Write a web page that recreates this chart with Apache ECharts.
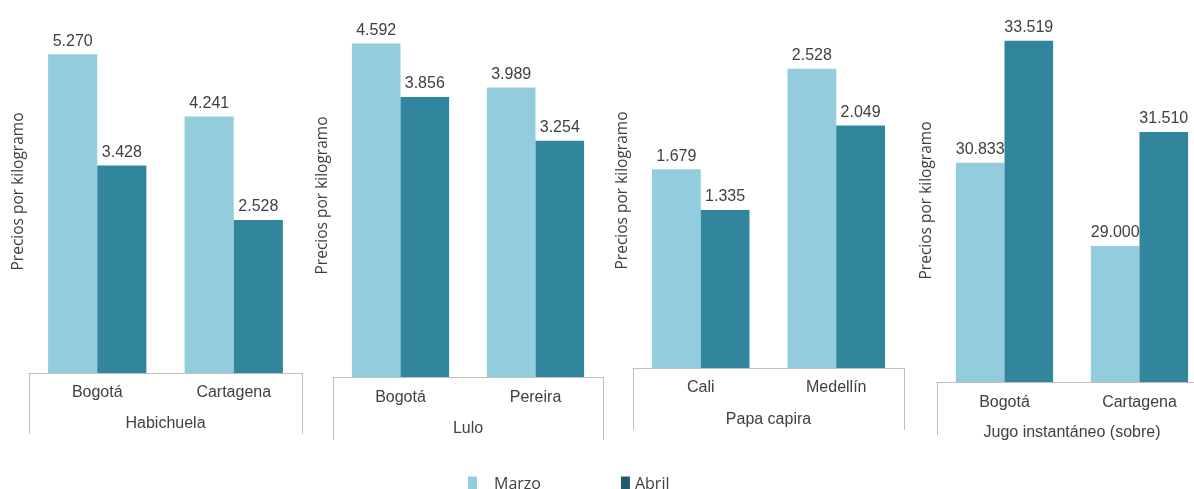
<!DOCTYPE html>
<html>
<head>
    <meta charset="utf-8">
    <title>Precios por kilogramo</title>
    <script src="https://cdn.jsdelivr.net/npm/echarts@6/dist/echarts.min.js"></script>
    <style>
        body { margin: 0; background: #fff; overflow: hidden; }
    </style>
</head>
<body>
<!-- el ultimo panel se sale un poco por la derecha, como en la imagen original -->
<div id="main" style="width: 1210px;height:489px;"></div>
<script type="text/javascript">
    // datos por producto (pesos por kilogramo)
    var productos = ['Habichuela', 'Lulo', 'Papa capira', 'Jugo instantáneo (sobre)'];
    var ciudades = [
        ['Bogotá', 'Cartagena'],
        ['Bogotá', 'Pereira'],
        ['Cali', 'Medellín'],
        ['Bogotá', 'Cartagena']
    ];
    var marzo = [
        [5270, 4241],
        [4592, 3989],
        [1679, 2528],
        [30833, 29000]
    ];
    var abril = [
        [3428, 2528],
        [3856, 3254],
        [1335, 2049],
        [33519, 31510]
    ];
    var ejeMin = [0, 0, 0, 26000];
    var ejeMax = [6000, 5000, 3000, 34000];

    // posicion de cada panel
    var paneles = [
        {left: 29, width: 273, top: 10, bottom: 116, city: 12, prod: 43, tick: 61},
        {left: 333, width: 270, top: 14, bottom: 112, city: 13, prod: 44, tick: 63},
        {left: 633, width: 271, top: 13, bottom: 121, city: 12, prod: 44, tick: 62},
        {left: 937, width: 270, top: 19, bottom: 107, city: 13, prod: 43, tick: 53}
    ];

    var colorMarzo = '#93cddd';
    var colorAbril = '#31859c';
    var gris = '#bfbfbf';
    var texto = '#404040';
    var fuente = 'Liberation Sans';

    function formato(v) {
        return String(v).replace(/\B(?=(\d{3})+(?!\d))/g, '.');
    }

    var grid = [], xAxis = [], yAxis = [], series = [];

    for (var i = 0; i < productos.length; i++) {
        var p = paneles[i];
        grid.push({left: p.left, width: p.width, top: p.top, bottom: p.bottom});

        // ciudades
        xAxis.push({
            type: 'category',
            gridIndex: i,
            position: 'bottom',
            data: ciudades[i],
            axisLine: {show: true, lineStyle: {color: gris, width: 1}},
            axisTick: {show: false},
            axisLabel: {margin: p.city, color: texto, fontSize: 16, fontFamily: fuente}
        });
        // producto (segundo nivel)
        xAxis.push({
            type: 'category',
            gridIndex: i,
            position: 'bottom',
            data: [productos[i]],
            axisLine: {show: false},
            axisTick: {show: true, length: p.tick, lineStyle: {color: gris, width: 1}},
            axisLabel: {margin: p.prod, color: texto, fontSize: 16, fontFamily: fuente}
        });

        yAxis.push({
            type: 'value',
            gridIndex: i,
            min: ejeMin[i],
            max: ejeMax[i],
            axisLine: {show: false},
            axisTick: {show: false},
            axisLabel: {show: false},
            splitLine: {show: false},
            name: 'Precios por kilogramo',
            nameLocation: 'middle',
            nameGap: 2,
            nameTextStyle: {color: texto, fontSize: 15.5, fontFamily: 'Open Sans'}
        });

        var etiqueta = {
            show: true,
            position: 'top',
            distance: 5,
            color: texto,
            fontSize: 16,
            fontFamily: fuente,
            formatter: function (d) { return formato(d.value); }
        };

        series.push({
            name: 'Marzo',
            type: 'bar',
            xAxisIndex: i * 2,
            yAxisIndex: i,
            data: marzo[i],
            barGap: '0%',
            barCategoryGap: '28%',
            itemStyle: {color: colorMarzo},
            label: etiqueta,
            silent: true
        });
        series.push({
            name: 'Abril',
            type: 'bar',
            xAxisIndex: i * 2,
            yAxisIndex: i,
            data: abril[i],
            barGap: '0%',
            barCategoryGap: '28%',
            itemStyle: {color: colorAbril},
            label: etiqueta,
            silent: true
        });
    }

    var option = {
        animation: false,
        grid: grid,
        xAxis: xAxis,
        yAxis: yAxis,
        series: series,
        legend: {
            left: 463,
            top: 471,
            itemWidth: 9,
            itemHeight: 15,
            itemGap: 80,
            icon: 'rect',
            textStyle: {color: texto, fontSize: 16, fontFamily: 'Open Sans'},
            data: [
                {name: 'Marzo', itemStyle: {color: colorMarzo}, textStyle: {padding: [0, 0, 0, 12]}},
                {name: 'Abril', itemStyle: {color: '#215a69'}}
            ]
        }
    };

    var myChart = echarts.init(document.getElementById('main'));
    myChart.setOption(option);
</script>
</body>
</html>
